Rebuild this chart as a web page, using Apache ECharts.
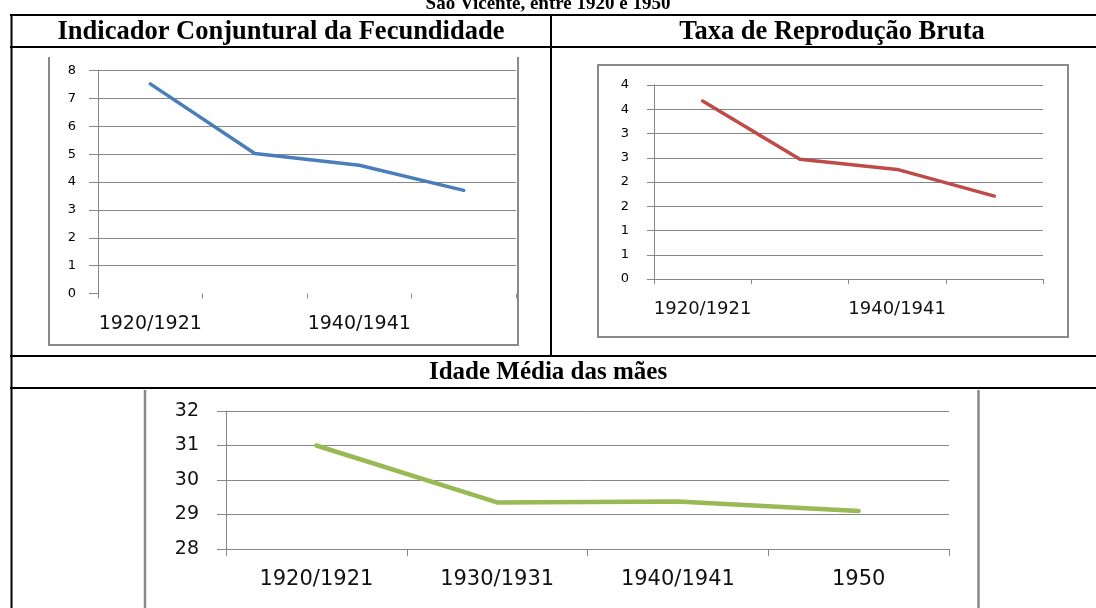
<!DOCTYPE html>
<html>
<head>
<meta charset="utf-8">
<script src="https://cdn.jsdelivr.net/npm/echarts@6/dist/echarts.min.js"></script>
<style>
html, body { margin: 0; padding: 0; background: #fff; }
#main { width: 1096px; height: 608px; }
</style>
</head>
<body>
<div id="main"></div>
<script>
// data
var periods = ["1920/1921", "1930/1931", "1940/1941", "1950"];
var icfValues = [7.52, 5.02, 4.6, 3.7];
var tbrValues = [3.67, 2.47, 2.26, 1.71];
var idadeValues = [31.0, 29.35, 29.38, 29.1];
var tbrTickLabels = ["0", "1", "1", "2", "2", "3", "3", "4", "4"];
var caption = "São Vicente, entre 1920 e 1950";
var panelTitles = ["Indicador Conjuntural da Fecundidade", "Taxa de Reprodução Bruta", "Idade Média das mães"];

var gridColor = "#868686";
var frameColor = "#8a8a8a";
var sans = "DejaVu Sans";
var serif = "Liberation Serif";

function hline(x1, x2, y, color, w) {
  return { type: "line", shape: { x1: x1, y1: y, x2: x2, y2: y }, style: { stroke: color, lineWidth: w }, silent: true };
}
function vline(x, y1, y2, color, w) {
  return { type: "line", shape: { x1: x, y1: y1, x2: x, y2: y2 }, style: { stroke: color, lineWidth: w }, silent: true };
}
function label(text, x, y, font) {
  return { type: "text", x: x, y: y, style: { text: text, font: font, fill: "#000", align: "center", verticalAlign: "middle" }, silent: true };
}

var myChart = echarts.init(document.getElementById("main"));

var option = {
  animation: false,
  backgroundColor: "#fff",
  grid: [
    { left: 98, top: 70.5, width: 418, height: 223 },
    { left: 654, top: 85, width: 389, height: 194 },
    { left: 226, top: 411, width: 723, height: 138 }
  ],
  xAxis: [
    {
      gridIndex: 0, type: "category", data: periods, boundaryGap: true,
      axisLine: { show: false },
      axisTick: { show: true, interval: 0, length: 5, lineStyle: { color: gridColor } },
      axisLabel: { interval: 1, margin: 21, color: "#111", fontFamily: sans, fontSize: 19 }
    },
    {
      gridIndex: 1, type: "category", data: periods, boundaryGap: true,
      axisLine: { show: true, lineStyle: { color: gridColor, width: 1 } },
      axisTick: { show: true, interval: 0, length: 5, lineStyle: { color: gridColor } },
      axisLabel: { interval: 1, margin: 21, color: "#111", fontFamily: sans, fontSize: 18 }
    },
    {
      gridIndex: 2, type: "category", data: periods, boundaryGap: true,
      axisLine: { show: true, lineStyle: { color: gridColor, width: 1 } },
      axisTick: { show: true, interval: 0, length: 7, lineStyle: { color: gridColor } },
      axisLabel: { interval: 0, margin: 20, color: "#111", fontFamily: sans, fontSize: 21 }
    }
  ],
  yAxis: [
    {
      gridIndex: 0, type: "value", min: 0, max: 8, interval: 1,
      axisLine: { show: true, lineStyle: { color: gridColor } },
      axisTick: { show: true, length: 9, lineStyle: { color: gridColor } },
      axisLabel: { margin: 22, color: "#000", fontFamily: sans, fontSize: 13 },
      splitLine: { show: true, lineStyle: { color: ["rgba(0,0,0,0)", gridColor, gridColor, gridColor, gridColor, gridColor, gridColor, gridColor, gridColor] } }
    },
    {
      gridIndex: 1, type: "value", min: 0, max: 4, interval: 0.5,
      axisLine: { show: true, lineStyle: { color: gridColor } },
      axisTick: { show: true, length: 7, lineStyle: { color: gridColor } },
      axisLabel: {
        margin: 25, color: "#000", fontFamily: sans, fontSize: 13,
        formatter: function (v) { return tbrTickLabels[Math.round(v / 0.5)]; }
      },
      splitLine: { show: true, lineStyle: { color: gridColor } }
    },
    {
      gridIndex: 2, type: "value", min: 28, max: 32, interval: 1,
      axisLine: { show: true, lineStyle: { color: gridColor } },
      axisTick: { show: true, length: 9, lineStyle: { color: gridColor } },
      axisLabel: { margin: 27, color: "#111", fontFamily: sans, fontSize: 19 },
      splitLine: { show: true, lineStyle: { color: gridColor } }
    }
  ],
  series: [
    {
      name: panelTitles[0], type: "line", xAxisIndex: 0, yAxisIndex: 0, data: icfValues,
      showSymbol: false, lineStyle: { color: "#4A7EBB", width: 3.5, cap: "round" }
    },
    {
      name: panelTitles[1], type: "line", xAxisIndex: 1, yAxisIndex: 1, data: tbrValues,
      showSymbol: false, lineStyle: { color: "#BE4B48", width: 3.5, cap: "round" }
    },
    {
      name: panelTitles[2], type: "line", xAxisIndex: 2, yAxisIndex: 2, data: idadeValues,
      showSymbol: false, lineStyle: { color: "#98B954", width: 4.5, cap: "round" }
    }
  ],
  graphic: [
    // table lines
    hline(10, 1096, 15, "#000", 2),
    hline(10, 1096, 47, "#000", 2),
    hline(10, 1096, 356, "#000", 2),
    hline(10, 1096, 388, "#000", 2),
    vline(11.5, 14, 608, "#000", 2),
    vline(551, 14, 356, "#000", 2),
    // chart area frames
    { type: "polyline", shape: { points: [[49, 57], [49, 345], [518, 345], [518, 57]] }, style: { stroke: frameColor, lineWidth: 2, fill: null }, silent: true },
    { type: "rect", shape: { x: 598, y: 65, width: 470, height: 272 }, style: { stroke: frameColor, lineWidth: 2, fill: null }, silent: true },
    vline(145, 390, 608, frameColor, 2.5),
    vline(978.5, 390, 608, frameColor, 2.5),
    // texts
    label(caption, 548, 4, "bold 19px " + serif),
    label(panelTitles[0], 281, 32, "bold 26.5px " + serif),
    label(panelTitles[1], 832, 32, "bold 26.5px " + serif),
    label(panelTitles[2], 548, 373, "bold 25px " + serif)
  ]
};

myChart.setOption(option);
</script>
</body>
</html>
